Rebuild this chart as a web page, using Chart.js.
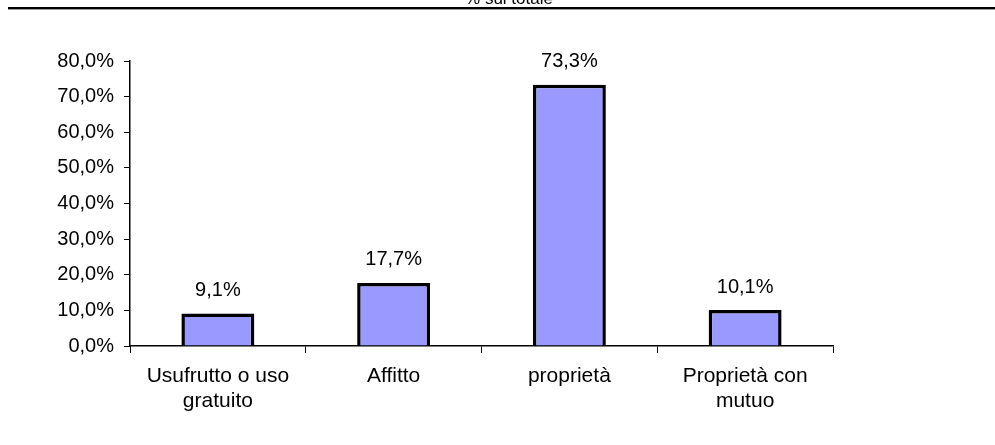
<!DOCTYPE html>
<html>
<head>
<meta charset="utf-8">
<script src="https://cdn.jsdelivr.net/npm/chart.js@4"></script>
<style>
  html, body { margin: 0; padding: 0; background: #fff; }
  #wrap { width: 995px; height: 445px; position: relative; }
</style>
</head>
<body>
<div id="wrap"><canvas id="abitazioneChart"></canvas></div>
<script>
// categorie e valori (% sul totale)
const categorie = [['Usufrutto o uso', 'gratuito'], ['Affitto'], ['proprietà'], ['Proprietà con', 'mutuo']];
const percentuali = [9.1, 17.7, 73.3, 10.1];
const tickMax = 80;
const tickStep = 10;
const titolo = '% sul totale';

const FONT = 'Arial, "Liberation Sans", sans-serif';

const fmt = v => v.toFixed(1).replace('.', ',') + '%';

// titolo tagliato in alto + doppia riga di separazione
const headerPlugin = {
  id: 'header',
  afterDraw(chart) {
    const ctx = chart.ctx;
    ctx.save();
    ctx.fillStyle = '#000';
    ctx.font = '17px ' + FONT;
    ctx.textAlign = 'center';
    ctx.textBaseline = 'alphabetic';
    ctx.fillText(titolo, 509, 4);
    ctx.fillStyle = '#000';
    ctx.fillRect(8, 7, 987, 2);
    ctx.fillStyle = '#999';
    ctx.fillRect(8, 9, 987, 1);
    ctx.restore();
  }
};

// etichette con il valore sopra ogni barra
const valoriPlugin = {
  id: 'valori',
  afterDatasetsDraw(chart) {
    const ctx = chart.ctx;
    const meta = chart.getDatasetMeta(0);
    ctx.save();
    ctx.fillStyle = '#000';
    ctx.font = '20px ' + FONT;
    ctx.textAlign = 'center';
    ctx.textBaseline = 'middle';
    meta.data.forEach((bar, i) => {
      ctx.fillText(fmt(percentuali[i]), bar.x, bar.y - 23);
    });
    ctx.restore();
  }
};

new Chart(document.getElementById('abitazioneChart'), {
  type: 'bar',
  data: {
    labels: categorie,
    datasets: [{
      data: percentuali,
      backgroundColor: '#9999ff',
      borderColor: '#000',
      borderWidth: 3.5,
      categoryPercentage: 1,
      barPercentage: 0.415
    }]
  },
  options: {
    responsive: true,
    maintainAspectRatio: false,
    animation: false,
    layout: { padding: { top: 61, right: 162, left: 0, bottom: 0 } },
    plugins: {
      legend: { display: false },
      tooltip: { enabled: false }
    },
    scales: {
      x: {
        offset: true,
        grid: {
          offset: true,
          drawOnChartArea: false,
          drawTicks: true,
          tickLength: 7,
          color: '#000',
          lineWidth: 1
        },
        border: { color: '#000', width: 1.5 },
        ticks: {
          color: '#000',
          font: { family: FONT, size: 21, lineHeight: 1.22 },
          padding: 10,
          maxRotation: 0,
          autoSkip: false
        },
        afterFit(scale) { scale.height = 99; }
      },
      y: {
        min: 0,
        max: tickMax,
        grid: {
          drawOnChartArea: false,
          drawTicks: true,
          tickLength: 6,
          color: '#000',
          lineWidth: 1
        },
        border: { color: '#000', width: 1.5 },
        ticks: {
          stepSize: tickStep,
          color: '#000',
          font: { family: FONT, size: 20 },
          padding: 10,
          callback: v => fmt(v)
        },
        afterFit(scale) { scale.width = 130; }
      }
    }
  },
  plugins: [headerPlugin, valoriPlugin]
});
</script>
</body>
</html>
